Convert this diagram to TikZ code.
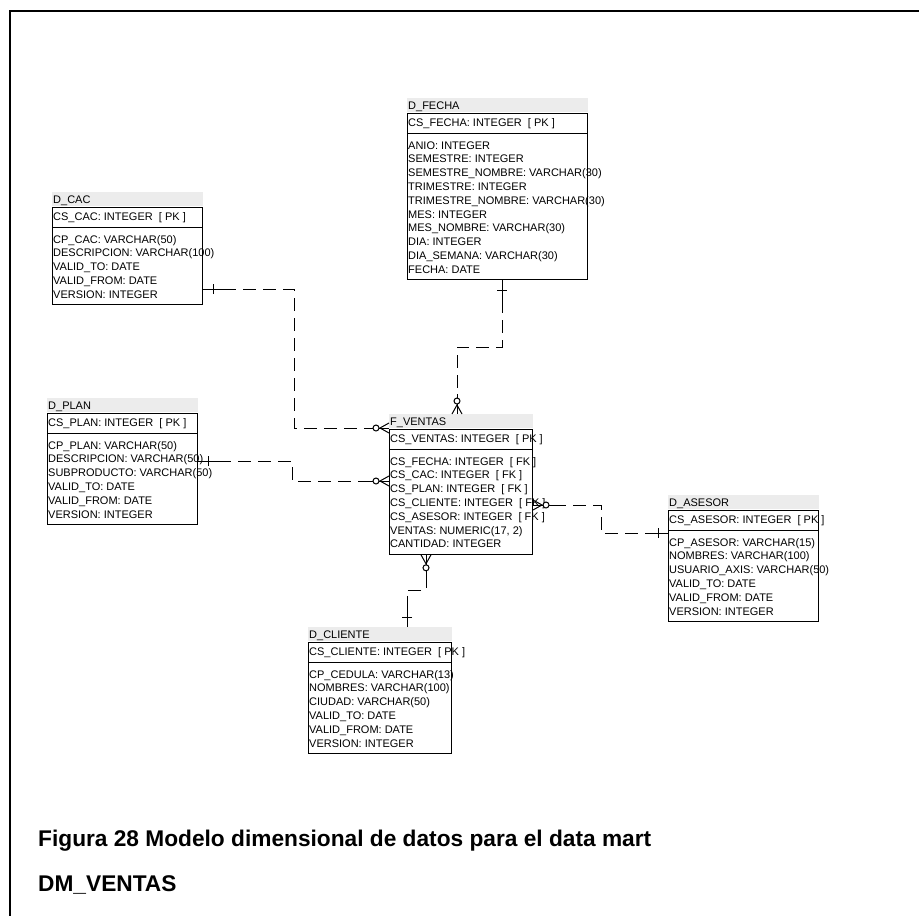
\documentclass[tikz,border=0pt]{standalone}
\usepackage{fontspec}
\usetikzlibrary{calc}
\newfontfamily\erfont{Liberation Sans}
\newfontfamily\capfont{Liberation Sans}

\definecolor{hdrgray}{RGB}{236,236,236}

% Entity table: #1 name, #2 left, #3 header top, #4 right, #5 title,
% #6 key row, #7 number of attribute rows, #8 attribute rows
\newcommand\ertable[8]{%
  \pgfmathsetmacro\erw{#4-#2}%
  \pgfmathsetmacro\erh{51+13.8*(#7-1)+6-15}%
  \node[hdr, minimum width=\erw pt+1pt] (#1-h) at (#2-0.5,#3) {};
  \node[erattr] (#1-t) at (#2+1,#3+11) {#5};
  \node[erattr] (#1-k) at (#2+1,#3+28) {#6};
  \foreach \a [count=\i from 0] in {#8} {%
    \node[erattr] (#1-a\i) at (#2+1,#3+51+13.8*\i) {\a};
  }%
  \node[erbox, minimum width=\erw pt, minimum height=\erh pt] (#1) at (#2,#3+15) {};
  \draw[erline] (#1.west |- 0,#3+35) -- (#1.east |- 0,#3+35);
}

% "exactly one" end: solid stub with a cross bar
\newcommand\oneend[2]{%
  \pgfmathsetmacro\erl{#2+90}\pgfmathsetmacro\err{#2-90}%
  \draw[erline] (#1) -- ($(#1)+(#2:20)$);
  \draw[erline] ($(#1)+(#2:10)+(\erl:5)$) -- ($(#1)+(#2:10)+(\err:5)$);
}

% "zero or many" end: crow's foot and circle
\newcommand\manyend[2]{%
  \pgfmathsetmacro\erl{#2+90}\pgfmathsetmacro\err{#2-90}%
  \draw[erline] (#1) -- ($(#1)+(#2:20)$);
  \draw[erline] ($(#1)+(\erl:5)$) -- ($(#1)+(#2:9)$) -- ($(#1)+(\err:5)$);
  \draw[erline, fill=white] ($(#1)+(#2:13)$) circle (3);
}

\tikzset{
  hdr/.style={fill=hdrgray, draw=none, anchor=north west, inner sep=0pt, minimum height=14pt},
  erbox/.style={draw=black, line width=1pt, anchor=north west, inner sep=0pt},
  erline/.style={draw=black, line width=1pt, solid},
  erattr/.style={anchor=base west, inner sep=0pt, font={\erfont\fontsize{11}{13}\selectfont}},
  rel/.style={draw=black, line width=1pt, dash pattern=on 13pt off 7pt},
  caption/.style={anchor=base west, inner sep=0pt, font={\capfont\bfseries\fontsize{22.7}{27}\selectfont}},
  frame/.style={draw=black, line width=2.5pt},
}

\begin{document}
\begin{tikzpicture}[x=1pt,y=-1pt]
\useasboundingbox (0,0) rectangle (919,916);

% outer frame (top and left edges)
\draw[frame] (10,916) -- (10,11) -- (919,11);

\ertable{fecha}{407}{98}{587}{D\_FECHA}{CS\_FECHA: INTEGER\ \ [ PK ]}{10}{%
ANIO: INTEGER,%
SEMESTRE: INTEGER,%
SEMESTRE\_NOMBRE: VARCHAR(30),%
TRIMESTRE: INTEGER,%
TRIMESTRE\_NOMBRE: VARCHAR(30),%
MES: INTEGER,%
MES\_NOMBRE: VARCHAR(30),%
DIA: INTEGER,%
DIA\_SEMANA: VARCHAR(30),%
FECHA: DATE}

\ertable{cac}{52}{192}{202}{D\_CAC}{CS\_CAC: INTEGER\ \ [ PK ]}{5}{%
CP\_CAC: VARCHAR(50),%
DESCRIPCION: VARCHAR(100),%
VALID\_TO: DATE,%
VALID\_FROM: DATE,%
VERSION: INTEGER}

\ertable{plan}{47}{398}{197}{D\_PLAN}{CS\_PLAN: INTEGER\ \ [ PK ]}{6}{%
CP\_PLAN: VARCHAR(50),%
DESCRIPCION: VARCHAR(50),%
SUBPRODUCTO: VARCHAR(50),%
VALID\_TO: DATE,%
VALID\_FROM: DATE,%
VERSION: INTEGER}

\ertable{ventas}{389}{414}{532}{F\_VENTAS}{CS\_VENTAS: INTEGER\ \ [ PK ]}{7}{%
CS\_FECHA: INTEGER\ \ [ FK ],%
CS\_CAC: INTEGER\ \ [ FK ],%
CS\_PLAN: INTEGER\ \ [ FK ],%
CS\_CLIENTE: INTEGER\ \ [ FK ],%
CS\_ASESOR: INTEGER\ \ [ FK ],%
{VENTAS: NUMERIC(17, 2)},%
CANTIDAD: INTEGER}

\ertable{asesor}{668}{495}{818}{D\_ASESOR}{CS\_ASESOR: INTEGER\ \ [ PK ]}{6}{%
CP\_ASESOR: VARCHAR(15),%
NOMBRES: VARCHAR(100),%
USUARIO\_AXIS: VARCHAR(50),%
VALID\_TO: DATE,%
VALID\_FROM: DATE,%
VERSION: INTEGER}

\ertable{cliente}{308}{627}{451}{D\_CLIENTE}{CS\_CLIENTE: INTEGER\ \ [ PK ]}{6}{%
CP\_CEDULA: VARCHAR(13),%
NOMBRES: VARCHAR(100),%
CIUDAD: VARCHAR(50),%
VALID\_TO: DATE,%
VALID\_FROM: DATE,%
VERSION: INTEGER}

% connector end points
\coordinate (cacR) at (cac.east |- 0,289);
\coordinate (vL1) at (ventas.west |- 0,428);
\coordinate (fechaB) at (fecha.south -| 502,0);
\coordinate (vT) at (ventas-h.north -| 457,0);
\coordinate (planR) at (plan.east |- 0,461);
\coordinate (vL2) at (ventas.west |- 0,481);
\coordinate (vR) at (ventas.east |- 0,505);
\coordinate (asesorL) at (asesor.west |- 0,533);
\coordinate (vB) at (ventas.south -| 426,0);
\coordinate (clienteT) at (cliente-h.north -| 407,0);

% relationships
\draw[rel] (cacR) -| (294,428) -- (vL1);
\oneend{cacR}{0}
\manyend{vL1}{180}

\draw[rel] (fechaB) -- (502,347) -| (vT);
\oneend{fechaB}{90}
\manyend{vT}{270}

\draw[rel] (planR) -| (292,481) -- (vL2);
\oneend{planR}{0}
\manyend{vL2}{180}

\draw[rel] (vR) -| (601,533) -- (asesorL);
\manyend{vR}{0}
\oneend{asesorL}{180}

\draw[rel] (vB) -- (426,590) -| (clienteT);
\manyend{vB}{90}
\oneend{clienteT}{270}

% caption
\node[caption] (cap1) at (38,846) {Figura 28 Modelo dimensional de datos para el data mart};
\node[caption] (cap2) at (38,891) {DM\_VENTAS};
\end{tikzpicture}
\end{document}
